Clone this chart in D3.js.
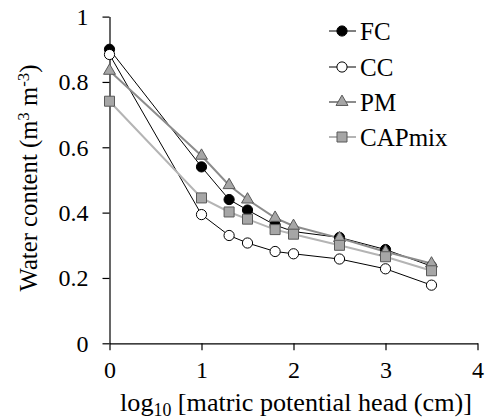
<!DOCTYPE html>
<html>
<head>
<meta charset="utf-8">
<script src="https://d3js.org/d3.v7.min.js"></script>
<style>
  body { margin: 0; background: #fff; }
</style>
</head>
<body>
<svg id="chart" width="488" height="419" font-family="Liberation Serif"></svg>
<script>
// log10 of matric potential head
const xValues = [0, 1, 1.3, 1.5, 1.8, 2, 2.5, 3, 3.5];
const fc = [0.90, 0.54, 0.44, 0.408, 0.362, 0.342, 0.324, 0.287, 0.236];
const cc = [0.884, 0.394, 0.330, 0.307, 0.281, 0.274, 0.258, 0.228, 0.178];
const pm = [0.834, 0.574, 0.484, 0.440, 0.384, 0.359, 0.322, 0.280, 0.244];
const capmix = [0.741, 0.445, 0.402, 0.380, 0.348, 0.334, 0.300, 0.265, 0.222];
const xTicks = [0, 1, 2, 3, 4];
const yTicks = [0, 0.2, 0.4, 0.6, 0.8, 1];

const FONT = "Liberation Serif";

const series = [
  { name: "FC", values: fc, line: "#000", lw: 1, marker: "circle", fill: "#000", stroke: "#000" },
  { name: "CC", values: cc, line: "#000", lw: 1, marker: "circle", fill: "#fff", stroke: "#000" },
  { name: "PM", values: pm, line: "#8c8c8c", lw: 2, marker: "triangle", fill: "#a6a6a6", stroke: "#595959" },
  { name: "CAPmix", values: capmix, line: "#b4b4b4", lw: 2, marker: "square", fill: "#a6a6a6", stroke: "#595959" }
];

const svg = d3.select("#chart");
const x = d3.scaleLinear().domain([0, 4]).range([109.5, 477.5]);
const y = d3.scaleLinear().domain([0, 1]).range([343.3, 16.6]);

// axes
const xAxis = svg.append("g").attr("transform", `translate(0,${y(0)})`)
  .call(d3.axisBottom(x).tickValues(xTicks).tickSize(7).tickSizeOuter(0).tickFormat(d3.format("d")));
const yAxis = svg.append("g").attr("transform", `translate(${x(0)},0)`)
  .call(d3.axisLeft(y).tickValues(yTicks).tickSize(7).tickSizeOuter(0).tickFormat(d => d === 0 || d === 1 ? d : d3.format(".1f")(d)));
[xAxis, yAxis].forEach(a => {
  a.attr("font-family", FONT).attr("font-size", 24);
  a.selectAll("path, line").attr("stroke", "#000").attr("stroke-width", 1.2);
  a.selectAll("text").attr("fill", "#000");
});
xAxis.selectAll("text").attr("dy", 0).attr("y", 35);
yAxis.selectAll("text").attr("x", -21).attr("dy", "0.33em");

const symbols = {
  circle: d3.symbol().type(d3.symbolCircle).size(82),
  triangle: d3.symbol().type(d3.symbolTriangle).size(62),
  square: d3.symbol().type(d3.symbolSquare).size(100)
};

const line = d3.line().x((d, i) => x(xValues[i])).y(d => y(d));

// draw lines + markers
series.forEach(s => {
  svg.append("path").datum(s.values)
    .attr("d", line).attr("fill", "none")
    .attr("stroke", s.line).attr("stroke-width", s.lw);
});
series.forEach(s => {
  svg.append("g").selectAll("path").data(s.values).join("path")
    .attr("transform", (d, i) => `translate(${x(xValues[i])},${y(d)})`)
    .attr("d", symbols[s.marker])
    .attr("fill", s.fill).attr("stroke", s.stroke).attr("stroke-width", 1);
});

// legend
const legendY = [31, 67, 102, 137];
const legend = svg.append("g");
series.forEach((s, i) => {
  const g = legend.append("g").attr("transform", `translate(0,${legendY[i]})`);
  g.append("line").attr("x1", 329).attr("x2", 356).attr("y1", 0).attr("y2", 0)
    .attr("stroke", s.line).attr("stroke-width", s.lw);
  g.append("path").attr("transform", "translate(342,0)")
    .attr("d", symbols[s.marker])
    .attr("fill", s.fill).attr("stroke", s.stroke);
  g.append("text").attr("x", 360).attr("y", 8.5)
    .attr("font-family", FONT).attr("font-size", 25).text(s.name);
});

// scale a title's font so it spans the width
function fit(sel, target) {
  const len = sel.node().getComputedTextLength();
  const k = target / len;
  sel.attr("font-size", 22 * k);
  sel.selectAll("tspan.sub").attr("font-size", 15 * k);
}

// axis titles
const xt = svg.append("text").attr("x", 296).attr("y", 411).attr("text-anchor", "middle")
  .attr("font-family", FONT).attr("font-size", 22);
xt.append("tspan").text("log");
xt.append("tspan").attr("class", "sub").attr("dy", 5).attr("font-size", 15).text("10");
xt.append("tspan").attr("dy", -5).text(" [matric potential head (cm)]");
fit(xt, 352);

const yt = svg.append("text").attr("transform", "translate(37,178) rotate(-90)").attr("text-anchor", "middle")
  .attr("font-family", FONT).attr("font-size", 22);
yt.append("tspan").text("Water content (m");
yt.append("tspan").attr("class", "sub").attr("dy", -8).attr("font-size", 15).text("3");
yt.append("tspan").attr("dy", 8).text(" m");
yt.append("tspan").attr("class", "sub").attr("dy", -8).attr("font-size", 15).text("-3");
yt.append("tspan").attr("dy", 8).text(")");
fit(yt, 227);
</script>
</body>
</html>
